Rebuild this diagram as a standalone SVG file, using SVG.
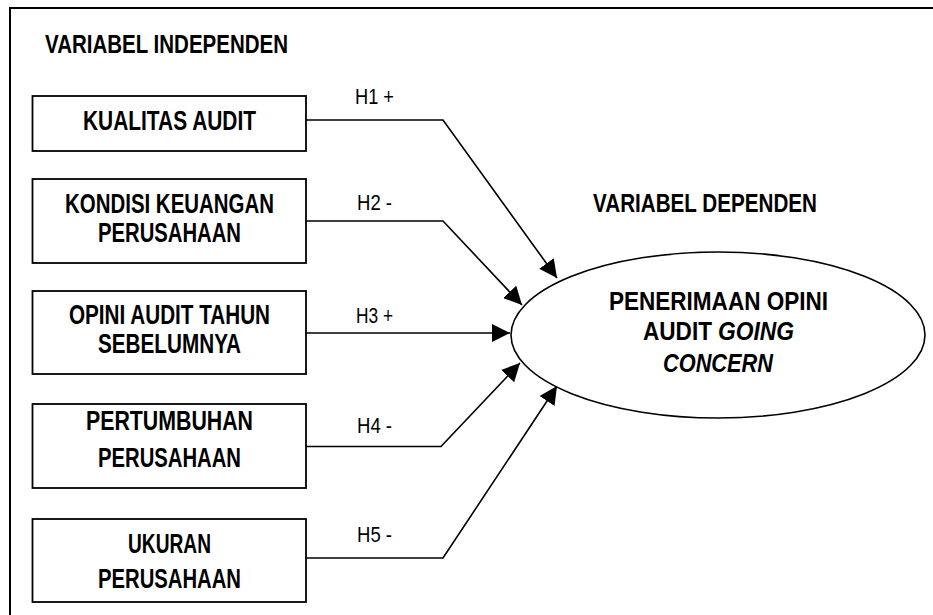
<svg xmlns="http://www.w3.org/2000/svg" width="933" height="615" viewBox="0 0 933 615">
<style>
  .box { fill: #fff; stroke: #000; stroke-width: 1.8; }
  .t { font-family: "Liberation Sans", Arial, sans-serif; fill: #000; }
  .b { font-size: 25px; font-weight: bold; }
  .bb { font-size: 27px; font-weight: bold; }
  .c { text-anchor: middle; }
  .h { font-size: 22px; }
  .i { font-style: italic; }
  .conn { fill: none; stroke: #000; stroke-width: 1.6; marker-end: url(#arr); }
</style>
<defs>
  <marker id="arr" markerUnits="userSpaceOnUse" markerWidth="18" markerHeight="18" refX="18" refY="9" orient="auto">
    <path d="M0,0 L18,9 L0,18 z" fill="#000"/>
  </marker>
</defs>
<rect width="933" height="615" fill="#fff"/>
<path d="M10,615 V8 H933" fill="none" stroke="#000" stroke-width="2"/>
<text class="t b" x="45" y="53" textLength="243" lengthAdjust="spacingAndGlyphs">VARIABEL INDEPENDEN</text>
<text class="t b" x="593" y="212" textLength="224" lengthAdjust="spacingAndGlyphs">VARIABEL DEPENDEN</text>

<g id="connectors">
  <path class="conn" d="M306,120 H443 L557,278"/>
  <path class="conn" d="M306,221 H443 L522,305"/>
  <path class="conn" d="M306,333 H510"/>
  <path class="conn" d="M306,446.5 H441 L520,363"/>
  <path class="conn" d="M306,558 H443 L557,386"/>
  <text class="t h" x="355" y="104" textLength="39" lengthAdjust="spacingAndGlyphs">H1 +</text>
  <text class="t h" x="357" y="210" textLength="35" lengthAdjust="spacingAndGlyphs">H2 -</text>
  <text class="t h" x="356" y="323" textLength="37" lengthAdjust="spacingAndGlyphs">H3 +</text>
  <text class="t h" x="357" y="433" textLength="35" lengthAdjust="spacingAndGlyphs">H4 -</text>
  <text class="t h" x="357" y="542" textLength="35" lengthAdjust="spacingAndGlyphs">H5 -</text>
</g>

<g id="kualitas">
  <rect class="box" x="32.5" y="96" width="273.5" height="55"/>
  <text class="t bb c" x="169.5" y="130" textLength="173" lengthAdjust="spacingAndGlyphs">KUALITAS AUDIT</text>
</g>
<g id="kondisi">
  <rect class="box" x="32.5" y="179" width="273.5" height="84"/>
  <text class="t bb c" x="169.5" y="212.5" textLength="209" lengthAdjust="spacingAndGlyphs">KONDISI KEUANGAN</text>
  <text class="t bb c" x="169.5" y="241.5" textLength="143" lengthAdjust="spacingAndGlyphs">PERUSAHAAN</text>
</g>
<g id="opini">
  <rect class="box" x="32.5" y="291" width="273.5" height="83"/>
  <text class="t bb c" x="169.5" y="324" textLength="201" lengthAdjust="spacingAndGlyphs">OPINI AUDIT TAHUN</text>
  <text class="t bb c" x="169.5" y="353" textLength="143" lengthAdjust="spacingAndGlyphs">SEBELUMNYA</text>
</g>
<g id="pertumbuhan">
  <rect class="box" x="32.5" y="404" width="273.5" height="84"/>
  <text class="t bb c" x="169.5" y="430" textLength="167" lengthAdjust="spacingAndGlyphs">PERTUMBUHAN</text>
  <text class="t bb c" x="169.5" y="467" textLength="143" lengthAdjust="spacingAndGlyphs">PERUSAHAAN</text>
</g>
<g id="ukuran">
  <rect class="box" x="32.5" y="519" width="273.5" height="83"/>
  <text class="t bb c" x="169.5" y="553" textLength="83" lengthAdjust="spacingAndGlyphs">UKURAN</text>
  <text class="t bb c" x="169.5" y="588" textLength="143" lengthAdjust="spacingAndGlyphs">PERUSAHAAN</text>
</g>
<g id="penerimaan">
  <ellipse cx="718" cy="335" rx="207" ry="83" fill="#fff" stroke="#000" stroke-width="1.6"/>
  <text class="t b c" x="718.5" y="310" textLength="219" lengthAdjust="spacingAndGlyphs">PENERIMAAN OPINI</text>
  <text class="t b" x="643" y="339.5" textLength="69" lengthAdjust="spacingAndGlyphs">AUDIT</text>
  <text class="t b i" x="718" y="339.5" textLength="76" lengthAdjust="spacingAndGlyphs">GOING</text>
  <text class="t b c i" x="718" y="371.5" textLength="110" lengthAdjust="spacingAndGlyphs">CONCERN</text>
</g>
</svg>
